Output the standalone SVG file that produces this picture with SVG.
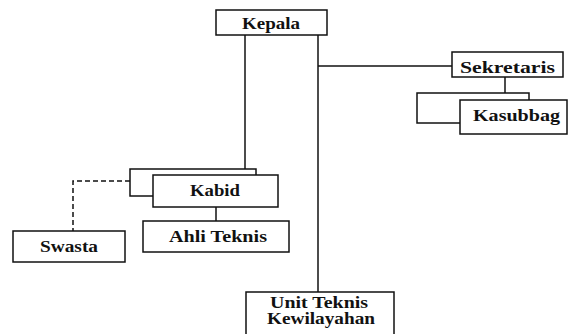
<svg xmlns="http://www.w3.org/2000/svg" width="568" height="334" viewBox="0 0 568 334">
<style>
.box{fill:#fff;stroke:#111;stroke-width:1.5}
.ln{fill:none;stroke:#111;stroke-width:1.5}
.dash{fill:none;stroke:#111;stroke-width:1.5;stroke-dasharray:5 3}
.t{font-family:"Liberation Serif","Times New Roman",serif;font-weight:bold;font-size:16px;fill:#111;text-anchor:middle}
</style>
<rect width="568" height="334" fill="#fff"/>
<g id="connectors">
<line class="ln" x1="245" y1="35" x2="245" y2="169"/>
<line class="ln" x1="318" y1="35" x2="318" y2="292"/>
<line class="ln" x1="318" y1="66" x2="452" y2="66"/>
<line class="ln" x1="505" y1="77" x2="505" y2="93"/>
<line class="ln" x1="216" y1="207" x2="216" y2="221"/>
<polyline class="dash" points="130,181 73,181 73,231"/>
</g>
<g id="kepala">
<rect class="box" x="216" y="10" width="111" height="25"/>
<text class="t" x="271" y="29" textLength="58" lengthAdjust="spacingAndGlyphs">Kepala</text>
</g>
<g id="sekretaris">
<rect class="box" x="452" y="52" width="111" height="25"/>
<text class="t" x="507.5" y="73" textLength="95" lengthAdjust="spacingAndGlyphs">Sekretaris</text>
</g>
<g id="kasubbag">
<rect class="box" x="417" y="93" width="112" height="30"/>
<rect class="box" x="460" y="100" width="107" height="34"/>
<text class="t" x="516.5" y="121" textLength="87" lengthAdjust="spacingAndGlyphs">Kasubbag</text>
</g>
<g id="kabid">
<rect class="box" x="130" y="169" width="126" height="27"/>
<rect class="box" x="153" y="175" width="125" height="32"/>
<text class="t" x="215" y="196" textLength="50" lengthAdjust="spacingAndGlyphs">Kabid</text>
</g>
<g id="ahli-teknis">
<rect class="box" x="143" y="221" width="146" height="31"/>
<text class="t" x="218" y="242" textLength="98" lengthAdjust="spacingAndGlyphs">Ahli Teknis</text>
</g>
<g id="swasta">
<rect class="box" x="13" y="231" width="112" height="31"/>
<text class="t" x="69" y="252" textLength="58" lengthAdjust="spacingAndGlyphs">Swasta</text>
</g>
<g id="unit-teknis">
<rect class="box" x="246" y="292" width="148" height="50"/>
<text class="t" x="319" y="308" textLength="98" lengthAdjust="spacingAndGlyphs">Unit Teknis</text>
<text class="t" x="321" y="324" textLength="108" lengthAdjust="spacingAndGlyphs">Kewilayahan</text>
</g>
</svg>
